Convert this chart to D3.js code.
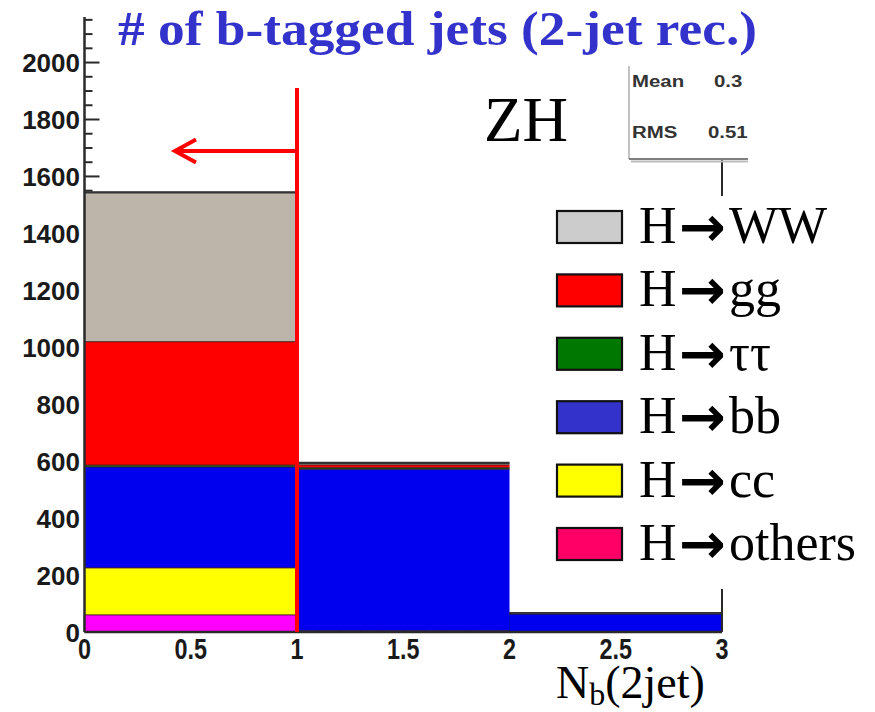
<!DOCTYPE html>
<html>
<head>
<meta charset="utf-8">
<script src="https://cdn.jsdelivr.net/npm/d3@7"></script>
<style>
  html, body { margin: 0; padding: 0; background: #fff; }
  svg { display: block; }
</style>
</head>
<body>
<svg id="chart" width="875" height="712"></svg>
<script>
// Number of b-tagged jets in 2-jet reconstructed ZH events, stacked by Higgs decay mode
const binEdges = [0, 1, 2, 3];
const decayModes = ["others", "cc", "bb", "tautau", "gg", "WW"];   // stacking order, bottom to top
const others = [60, 1, 0];
const cc     = [165, 3, 1];
const bb     = [355, 568, 63];
const tautau = [6, 5, 1];
const gg     = [434, 10, 1];
const WW     = [524, 7, 0];
const seriesValues = { others, cc, bb, tautau, gg, WW };

const barColors    = { WW: "#bdb4aa", gg: "#ff0000", tautau: "#007700", bb: "#0000ee", cc: "#ffff00", others: "#ff00ff" };
const legendColors = { WW: "#cccccc", gg: "#ff0000", tautau: "#007700", bb: "#3333cc", cc: "#ffff00", others: "#ff0066" };
const legendOrder  = ["WW", "gg", "tautau", "bb", "cc", "others"];
const legendLabels = { WW: "WW", gg: "gg", tautau: "ττ", bb: "bb", cc: "cc", others: "others" };

const yMax = 2160;
const yTickValues = [0, 200, 400, 600, 800, 1000, 1200, 1400, 1600, 1800, 2000];
const xTickValues = [0, 0.5, 1, 1.5, 2, 2.5, 3];
const xTickLabels = ["0", "0.5", "1", "1.5", "2", "2.5", "3"];
const cutValue = 1;
const statsNames  = ["Mean", "RMS"];
const statsValues = ["0.3", "0.51"];

const svg = d3.select("#chart");
const x = d3.scaleLinear().domain([0, 3]).range([84.5, 722]);
const y = d3.scaleLinear().domain([0, yMax]).range([632, 17]);

// ---- axes (drawn first; the histogram covers the tick marks inside the bars)
const axisColor = "#2a2a2a";
const yMinor = d3.range(0, yMax + 1, 50);
svg.append("g").selectAll("line").data(yMinor).join("line")
  .attr("x1", x(0)).attr("x2", d => x(0) + (d % 200 === 0 ? 15 : 8))
  .attr("y1", d => y(d)).attr("y2", d => y(d))
  .attr("stroke", axisColor).attr("stroke-width", 2);
const xMinor = d3.range(0, 3.001, 0.1);
svg.append("g").selectAll("line").data(xMinor).join("line")
  .attr("x1", d => x(d)).attr("x2", d => x(d))
  .attr("y1", y(0)).attr("y2", d => y(0) - (Math.abs(d * 2 - Math.round(d * 2)) < 1e-6 ? 20 : 10))
  .attr("stroke", axisColor).attr("stroke-width", 1.5);

// ---- stacked histogram
const stackData = binEdges.slice(0, -1).map((lo, i) => {
  const row = { lo, hi: binEdges[i + 1] };
  decayModes.forEach(m => row[m] = seriesValues[m][i]);
  return row;
});
const stacked = d3.stack().keys(decayModes)(stackData);
const gBars = svg.append("g");
stacked.forEach(layer => {
  gBars.selectAll(null).data(layer).join("rect")
    .attr("x", d => x(d.data.lo))
    .attr("width", d => x(d.data.hi) - x(d.data.lo))
    .attr("y", d => y(d[1]))
    .attr("height", d => Math.max(0, y(d[0]) - y(d[1])))
    .attr("fill", barColors[layer.key]);
});
// segment boundaries
stacked.forEach(layer => {
  gBars.selectAll(null).data(layer.filter(d => d[1] - d[0] > 0)).join("line")
    .attr("x1", d => x(d.data.lo)).attr("x2", d => x(d.data.hi))
    .attr("y1", d => y(d[1])).attr("y2", d => y(d[1]))
    .attr("stroke", "#3a1a1a").attr("stroke-width", 1.2).attr("opacity", 0.75);
});
// outer histogram outline
const totals = stackData.map(r => decayModes.reduce((s, m) => s + r[m], 0));
gBars.selectAll(null).data(stackData).join("line")
  .attr("x1", d => x(d.lo)).attr("x2", d => x(d.hi))
  .attr("y1", (d, i) => y(totals[i])).attr("y2", (d, i) => y(totals[i]))
  .attr("stroke", "#333").attr("stroke-width", 2.2);

// axis lines
svg.append("line").attr("x1", x(0)).attr("x2", x(0)).attr("y1", y(yMax)).attr("y2", y(0))
  .attr("stroke", axisColor).attr("stroke-width", 2.5);
svg.append("line").attr("x1", x(0)).attr("x2", x(3)).attr("y1", y(0)).attr("y2", y(0))
  .attr("stroke", axisColor).attr("stroke-width", 2.5);
svg.append("line").attr("x1", x(3)).attr("x2", x(3)).attr("y1", 160).attr("y2", y(0))
  .attr("stroke", axisColor).attr("stroke-width", 2);

// tick labels
const labelFont = "'Liberation Sans', Arial, Helvetica, sans-serif";
svg.append("g").selectAll("text").data(yTickValues).join("text")
  .attr("transform", d => `translate(80,${y(d) + 9.5})`)
  .attr("text-anchor", "end")
  .attr("font-family", labelFont).attr("font-weight", "bold").attr("font-size", 26)
  .attr("fill", "#1a1a1a")
  .text(d => d);
svg.append("g").selectAll("text").data(xTickValues).join("text")
  .attr("transform", d => `translate(${x(d)},659) scale(0.9,1.12)`)
  .attr("text-anchor", "middle")
  .attr("font-family", labelFont).attr("font-weight", "bold").attr("font-size", 26)
  .attr("fill", "#1a1a1a")
  .text((d, i) => xTickLabels[i]);

// ---- cut line and arrow
const cutX = x(cutValue);
svg.append("line").attr("x1", cutX).attr("x2", cutX).attr("y1", 88).attr("y2", y(0))
  .attr("stroke", "#ff0000").attr("stroke-width", 4);
svg.append("path")
  .attr("d", `M${cutX},151 L175,151 M196,139.5 L175,151 L196,162.5`)
  .attr("fill", "none").attr("stroke", "#ff0000").attr("stroke-width", 4)
  .attr("stroke-linejoin", "miter");

// ---- statistics box
const statsClip = svg.append("clipPath").attr("id", "statsClip");
statsClip.append("rect").attr("x", 620).attr("y", 55).attr("width", 128).attr("height", 115);
const gStats = svg.append("g").attr("clip-path", "url(#statsClip)");
gStats.append("rect").attr("x", 629).attr("y", 62).attr("width", 140).attr("height", 97).attr("fill", "#fff");
gStats.append("line").attr("x1", 629).attr("x2", 629).attr("y1", 66).attr("y2", 159)
  .attr("stroke", "#999").attr("stroke-width", 1.2);
gStats.append("line").attr("x1", 629).attr("x2", 770).attr("y1", 159).attr("y2", 159)
  .attr("stroke", "#555").attr("stroke-width", 1.5);
gStats.append("line").attr("x1", 631).attr("x2", 770).attr("y1", 161.5).attr("y2", 161.5)
  .attr("stroke", "#bbb").attr("stroke-width", 2);
statsNames.forEach((n, i) => {
  gStats.append("text").attr("transform", `translate(632,${87 + i * 51}) scale(1.2,1)`)
    .attr("font-family", labelFont).attr("font-weight", "bold").attr("font-size", 17)
    .attr("fill", "#333").text(n);
  gStats.append("text").attr("transform", `translate(${i === 0 ? 714 : 708},${87 + i * 51}) scale(1.2,1)`)
    .attr("font-family", labelFont).attr("font-weight", "bold").attr("font-size", 17)
    .attr("fill", "#333").text(statsValues[i]);
});

// ---- legend
const serif = "'Liberation Serif', 'Times New Roman', Times, serif";
svg.append("rect").attr("x", 545).attr("y", 196).attr("width", 330).attr("height", 393).attr("fill", "#fff");
const gLeg = svg.append("g");
legendOrder.forEach((m, i) => {
  const base = 243 + i * 63.4;
  gLeg.append("rect").attr("x", 557).attr("y", base - 32).attr("width", 65).attr("height", 32)
    .attr("fill", legendColors[m]).attr("stroke", "#111").attr("stroke-width", 2.2);
  const t = gLeg.append("text").attr("y", base)
    .attr("font-family", serif).attr("font-size", 52).attr("fill", "#000");
  t.append("tspan").attr("x", 639).text("H");
  t.append("tspan").attr("x", 679).attr("y", base + 3)
    .attr("font-family", "'DejaVu Sans', sans-serif").attr("font-weight", "bold")
    .attr("font-size", 56).text("→");
  t.append("tspan").attr("x", 729).attr("y", base).text(legendLabels[m]);
});

// ---- labels
svg.append("text").attr("x", 118).attr("y", 45)
  .attr("font-family", serif).attr("font-weight", "bold").attr("font-size", 48)
  .attr("fill", "#3333cc").attr("textLength", 639).attr("lengthAdjust", "spacingAndGlyphs")
  .text("# of b-tagged jets (2-jet rec.)");
svg.append("text").attr("x", 484).attr("y", 141)
  .attr("font-family", serif).attr("font-size", 63).attr("fill", "#000")
  .text("ZH");
const xl = svg.append("text").attr("x", 556).attr("y", 698)
  .attr("font-family", serif).attr("font-size", 46).attr("fill", "#000");
xl.append("tspan").text("N");
xl.append("tspan").attr("font-size", 32).attr("dy", 7).text("b");
xl.append("tspan").attr("dy", -7).text("(2jet)");
</script>
</body>
</html>
